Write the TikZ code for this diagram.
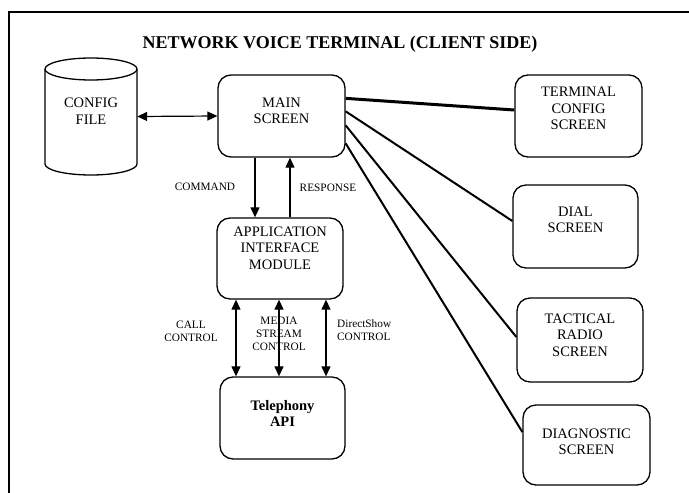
\documentclass[tikz,border=0pt]{standalone}
\usepackage{fontspec}
\setmainfont{Liberation Serif}
\usetikzlibrary{arrows.meta,calc}
\tikzset{
  box/.style={draw, line width=1.3pt, rounded corners=13pt, inner sep=0pt},
  ghost/.style={inner sep=0pt},
  lbl/.style={font=\fontsize{14.5}{16.5}\selectfont, align=center, inner sep=0pt},
  small/.style={font=\fontsize{11.3}{13}\selectfont, align=center, inner sep=0pt},
  conn/.style={line width=2pt},
  thickconn/.style={line width=3pt},
  arr/.style={line width=1.2pt, -{Triangle[length=10pt,width=9pt]}},
  darr/.style={line width=1.2pt, {Triangle[length=10pt,width=9pt]}-{Triangle[length=10pt,width=9pt]}}
}
\begin{document}
\begin{tikzpicture}[x=1pt,y=-1pt]
\useasboundingbox (0,0) rectangle (689,493);
\fill[white] (0,0) rectangle (689,493);
% frame
\draw[line width=1.5pt] (9,493) -- (9,12) -- (689,12);
% title
\node[font=\fontsize{18}{20}\selectfont\bfseries, inner sep=0pt] (title) at (340,44) {NETWORK VOICE TERMINAL (CLIENT SIDE)};
% config file cylinder
\node[ghost, minimum width=92pt, minimum height=117pt] (cfg) at (91,116.5) {};
\draw[line width=1.3pt] (91,69) ellipse [x radius=46, y radius=11];
\draw[line width=1.3pt] (45,69) -- (45,164) arc[start angle=180, end angle=360, x radius=46, y radius=-11] -- (137,69);
\node[lbl] (cfgtxt) at (91,111) {CONFIG\\FILE};
% boxes
\node[box, minimum width=127pt, minimum height=82pt] (main) at (281.5,116) {};
\node[lbl] (maintxt) at (281.5,111) {MAIN\\SCREEN};
\node[box, minimum width=126pt, minimum height=81pt] (app) at (280,258.5) {};
\node[lbl] (apptxt) at (280,248) {APPLICATION\\INTERFACE\\MODULE};
\node[box, minimum width=125pt, minimum height=82pt] (tel) at (282.5,418) {};
\node[lbl, font=\fontsize{14.5}{16.5}\selectfont\bfseries] (teltxt) at (282.5,413.5) {Telephony\\API};
\node[box, minimum width=127pt, minimum height=82pt] (term) at (578.5,116) {};
\node[lbl] (termtxt) at (578.5,108.5) {TERMINAL\\CONFIG\\SCREEN};
\node[box, minimum width=125pt, minimum height=83pt] (dial) at (575.5,226.5) {};
\node[lbl] (dialtxt) at (575.5,220) {DIAL\\SCREEN};
\node[box, minimum width=126pt, minimum height=84pt] (tac) at (580,340) {};
\node[lbl] (tactxt) at (580,335) {TACTICAL\\RADIO\\SCREEN};
\node[box, minimum width=127pt, minimum height=80pt] (diag) at (586.5,445) {};
\node[lbl] (diagtxt) at (586.5,442) {DIAGNOSTIC\\SCREEN};
% config <-> main
\draw[darr] (cfg.east) -- (main.west);
% main <-> app
\coordinate (xcmd) at (255,0);
\coordinate (xrsp) at (290,0);
\draw[arr] (xcmd |- main.south) -- (xcmd |- app.north);
\draw[arr] (xrsp |- app.north) -- (xrsp |- main.south);
\node[small] (cmdlbl) at (205,187) {COMMAND};
\node[small] (rsplbl) at (328,188) {RESPONSE};
% app <-> telephony
\coordinate (xa) at (236,0);
\coordinate (xb) at (279,0);
\coordinate (xc) at (326,0);
\draw[darr] (xa |- app.south) -- (xa |- tel.north);
\draw[darr] (xb |- app.south) -- (xb |- tel.north);
\draw[darr] (xc |- app.south) -- (xc |- tel.north);
\node[small] (calllbl) at (191,331.5) {CALL\\CONTROL};
\node[small] (medialbl) at (279,333.5) {MEDIA\\STREAM\\CONTROL};
\node[small, anchor=west, align=left] (dslbl) at (337,330.5) {DirectShow\\CONTROL};
% main to screens
\draw[thickconn] ([yshift=-24]main.north east) -- ([yshift=6]term.west);
\draw[conn] ([yshift=-37]main.north east) -- ([yshift=5.5]dial.west);
\draw[conn] ([yshift=-51]main.north east) -- ([yshift=3]tac.west);
\draw[conn] ([yshift=-69]main.north east) -- ([yshift=13]diag.west);
\end{tikzpicture}
\end{document}
